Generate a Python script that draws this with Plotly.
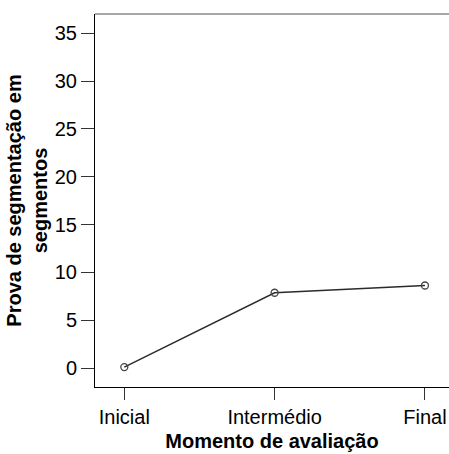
import plotly.graph_objects as go

categories = ["Inicial", "Intermédio", "Final"]
values = [0.1, 7.87, 8.63]
y_ticks = [0, 5, 10, 15, 20, 25, 30, 35]

FONT = "Liberation Sans, Arial, sans-serif"

fig = go.Figure()
fig.add_trace(go.Scatter(
    x=[0, 1, 2], y=values, mode="lines+markers",
    line=dict(color="#2b2b2b", width=1.5),
    marker=dict(symbol="circle-open", size=7, color="#444444", line=dict(width=1.3)),
    showlegend=False, cliponaxis=False,
))

fig.update_layout(
    width=449, height=454,
    margin=dict(l=95, r=0, t=14, b=67),
    paper_bgcolor="white", plot_bgcolor="white",
    font=dict(family=FONT, size=20, color="black"),
    xaxis=dict(
        range=[-0.195, 2.16], tickmode="array", tickvals=[0, 1, 2], ticktext=categories,
        showline=True, linecolor="black", linewidth=1, mirror=False,
        ticks="outside", ticklen=12, tickcolor="#333", tickwidth=1,
        showgrid=False, zeroline=False,
        title=dict(text="<b>Momento de avaliação</b>", font=dict(size=20), standoff=6),
        automargin=False,
    ),
    yaxis=dict(
        range=[-1.985, 37.02], tickmode="array", tickvals=y_ticks,
        showline=True, linecolor="black", linewidth=1, mirror=False,
        ticks="outside", ticklen=13, tickcolor="#333", tickwidth=1,
        showgrid=False, zeroline=False,
        title=dict(text="<b>Prova de segmentação em<br>segmentos</b>", font=dict(size=20), standoff=1),
        automargin=False,
    ),
    shapes=[dict(type="line", xref="paper", yref="paper", x0=0, x1=1, y0=1, y1=1,
                 line=dict(color="#8a8a8a", width=1.5))],
)

fig.write_html("out.html", config={"displayModeBar": False},
               post_script="document.body.style.margin='0';document.body.style.overflow='hidden';")
